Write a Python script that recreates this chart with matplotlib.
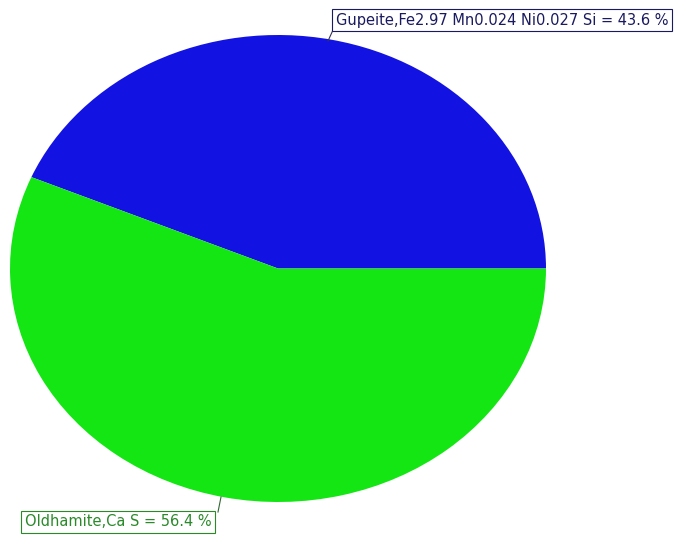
import matplotlib
matplotlib.use("Agg")
import matplotlib.pyplot as plt
from matplotlib.lines import Line2D

# Phase composition
phases = ["Gupeite,Fe2.97 Mn0.024 Ni0.027 Si", "Oldhamite,Ca S"]
percents = [43.6, 56.4]
colors = ["#1212e2", "#14e614"]

W, H = 675, 536
fig = plt.figure(figsize=(W / 100, H / 100), dpi=100)
fig.patch.set_facecolor("white")


def fx(px):
    return px / W


def fy(py):
    return 1 - py / H


# pie drawn as an ellipse: pixel box x 10..546, y 35..502
ax = fig.add_axes([fx(10), fy(502), (546 - 10) / W, (502 - 35) / H])
ax.pie(percents, colors=colors, startangle=0, counterclock=True,
       radius=1, center=(0, 0), wedgeprops=dict(linewidth=0))
ax.set_aspect("auto")
ax.set_xlim(-1, 1)
ax.set_ylim(-1, 1)
ax.axis("off")

labels = [f"{p} = {v} %" for p, v in zip(phases, percents)]

# Gupeite label (top right)
fig.text(fx(336), fy(20), labels[0], fontsize=10.5, color="#1a1a60",
         ha="left", va="center", family="DejaVu Sans",
         bbox=dict(boxstyle="square,pad=0.25", fc="white", ec="#1a1a60", lw=0.8))
fig.add_artist(Line2D([fx(333), fx(328)], [fy(30), fy(41)],
                      transform=fig.transFigure, color="#333355", lw=0.8))

# Oldhamite label (bottom left)
fig.text(fx(25), fy(522), labels[1], fontsize=10.5, color="#2a8a2a",
         ha="left", va="center", family="DejaVu Sans",
         bbox=dict(boxstyle="square,pad=0.25", fc="white", ec="#2a8a2a", lw=0.8))
fig.add_artist(Line2D([fx(218), fx(221)], [fy(512), fy(497)],
                      transform=fig.transFigure, color="#336633", lw=0.8))

fig.savefig("out.png", dpi=100, facecolor="white")
